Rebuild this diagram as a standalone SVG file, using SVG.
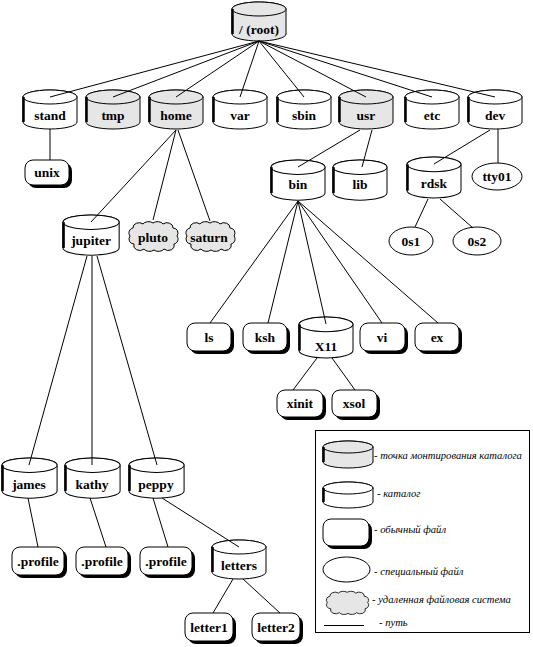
<svg xmlns="http://www.w3.org/2000/svg" xmlns:xlink="http://www.w3.org/1999/xlink" width="533" height="647" viewBox="0 0 533 647">
<style>
.n{stroke:#000;stroke-width:1;fill:#fff}
.g{fill:#e6e6e6}
.sh{fill:#000;stroke:none}
.t{font-family:"Liberation Serif","Times New Roman",serif;font-weight:bold;font-size:13.5px;text-anchor:middle;fill:#000}
.lt{font-family:"Liberation Serif","Times New Roman",serif;font-style:italic;font-size:10.6px;fill:#000}
#edges line{stroke:#000;stroke-width:1}
</style>
<defs>
<g id="cyl">
<path d="M0,7 V32 A27,7 0 0 0 54,32 V7 A27,7 0 0 0 0,7 Z"/>
<ellipse cx="27" cy="7" rx="27" ry="7"/>
<path d="M0.5,7 V32" fill="none" stroke-width="2.5"/>
</g>
<path id="cloud" d="M8,8 a6,5 0 0 1 10,-4 a6,4 0 0 1 10,-1 a6,4 0 0 1 10,1 a6,5 0 0 1 10,4 a5,5 0 0 1 4,8 a5,5 0 0 1 -3,8 a6,5 0 0 1 -10,5 a6,4 0 0 1 -10,1 a6,4 0 0 1 -10,-1 a6,5 0 0 1 -10,-5 a5,5 0 0 1 -4,-8 a5,5 0 0 1 3,-8 z"/>
</defs>
<rect width="533" height="647" fill="#fff"/>

<g id="root"><use xlink:href="#cyl" class="n g" transform="translate(232,2)"/><text class="t" x="259" y="34">/ (root)</text></g>
<g id="stand"><use xlink:href="#cyl" class="n" transform="translate(23,90)"/><text class="t" x="50" y="120">stand</text></g>
<g id="tmp"><use xlink:href="#cyl" class="n g" transform="translate(86,90)"/><text class="t" x="113" y="120">tmp</text></g>
<g id="home"><use xlink:href="#cyl" class="n g" transform="translate(149,90)"/><text class="t" x="176" y="120">home</text></g>
<g id="var"><use xlink:href="#cyl" class="n" transform="translate(213,90)"/><text class="t" x="240" y="120">var</text></g>
<g id="sbin"><use xlink:href="#cyl" class="n" transform="translate(277,90)"/><text class="t" x="304" y="120">sbin</text></g>
<g id="usr"><use xlink:href="#cyl" class="n g" transform="translate(339,90)"/><text class="t" x="366" y="120">usr</text></g>
<g id="etc"><use xlink:href="#cyl" class="n" transform="translate(405,90)"/><text class="t" x="432" y="120">etc</text></g>
<g id="dev"><use xlink:href="#cyl" class="n" transform="translate(468,90)"/><text class="t" x="495" y="120">dev</text></g>

<g id="unix"><rect class="sh" x="28" y="163" width="44" height="25" rx="8"/><rect class="n" x="25" y="160" width="44" height="25" rx="8"/><text class="t" x="47" y="177">unix</text></g>

<g id="jupiter"><use xlink:href="#cyl" class="n" transform="translate(63,215) scale(1.04,1.03)"/><text class="t" x="91" y="245">jupiter</text></g>
<g id="pluto"><use xlink:href="#cloud" class="n g" transform="translate(125,220)"/><text class="t" x="153" y="242">pluto</text></g>
<g id="saturn"><use xlink:href="#cloud" class="n g" transform="translate(182,220)"/><text class="t" x="209" y="242">saturn</text></g>

<g id="bin"><use xlink:href="#cyl" class="n" transform="translate(271,160) scale(1,1.03)"/><text class="t" x="298" y="189">bin</text></g>
<g id="lib"><use xlink:href="#cyl" class="n" transform="translate(333,160) scale(1,1.03)"/><text class="t" x="360" y="189">lib</text></g>
<g id="rdsk"><use xlink:href="#cyl" class="n" transform="translate(407,157) scale(1,1.05)"/><text class="t" x="434" y="188">rdsk</text></g>
<g id="tty01"><ellipse class="n" cx="497" cy="176.5" rx="25" ry="13.5"/><text class="t" x="497" y="181">tty01</text></g>
<g id="os1"><ellipse class="n" cx="411" cy="241" rx="22" ry="14"/><text class="t" x="411" y="246">0s1</text></g>
<g id="os2"><ellipse class="n" cx="477" cy="241" rx="24" ry="14"/><text class="t" x="477" y="246">0s2</text></g>

<g id="ls"><rect class="sh" x="190" y="326" width="44" height="28" rx="8"/><rect class="n" x="187" y="323" width="44" height="28" rx="8"/><text class="t" x="209" y="342">ls</text></g>
<g id="ksh"><rect class="sh" x="246" y="326" width="44" height="28" rx="8"/><rect class="n" x="243" y="323" width="44" height="28" rx="8"/><text class="t" x="265" y="342">ksh</text></g>
<g id="X11"><use xlink:href="#cyl" class="n" transform="translate(299,317) scale(1,1.05)"/><text class="t" x="326" y="351">X11</text></g>
<g id="vi"><rect class="sh" x="363" y="326" width="45" height="28" rx="8"/><rect class="n" x="360" y="323" width="45" height="28" rx="8"/><text class="t" x="382" y="342">vi</text></g>
<g id="ex"><rect class="sh" x="418" y="326" width="44" height="28" rx="8"/><rect class="n" x="415" y="323" width="44" height="28" rx="8"/><text class="t" x="437" y="342">ex</text></g>
<g id="xinit"><rect class="sh" x="280" y="393" width="46" height="27" rx="8"/><rect class="n" x="277" y="390" width="46" height="27" rx="8"/><text class="t" x="300" y="408">xinit</text></g>
<g id="xsol"><rect class="sh" x="335" y="393" width="45" height="27" rx="8"/><rect class="n" x="332" y="390" width="45" height="27" rx="8"/><text class="t" x="354" y="408">xsol</text></g>

<g id="james"><use xlink:href="#cyl" class="n" transform="translate(2,458) scale(1.02,1.03)"/><text class="t" x="29" y="489">james</text></g>
<g id="kathy"><use xlink:href="#cyl" class="n" transform="translate(65,458) scale(1.02,1.03)"/><text class="t" x="92" y="489">kathy</text></g>
<g id="peppy"><use xlink:href="#cyl" class="n" transform="translate(129,458) scale(1.02,1.03)"/><text class="t" x="156" y="489">peppy</text></g>
<g id="profile1"><rect class="sh" x="15" y="550" width="52" height="28" rx="8"/><rect class="n" x="12" y="547" width="52" height="28" rx="8"/><text class="t" x="38" y="566">.profile</text></g>
<g id="profile2"><rect class="sh" x="79" y="550" width="52" height="28" rx="8"/><rect class="n" x="76" y="547" width="52" height="28" rx="8"/><text class="t" x="102" y="566">.profile</text></g>
<g id="profile3"><rect class="sh" x="143" y="550" width="52" height="28" rx="8"/><rect class="n" x="140" y="547" width="52" height="28" rx="8"/><text class="t" x="166" y="566">.profile</text></g>
<g id="letters"><use xlink:href="#cyl" class="n" transform="translate(212,540)"/><text class="t" x="239" y="570">letters</text></g>
<g id="letter1"><rect class="sh" x="188" y="616" width="48" height="28" rx="8"/><rect class="n" x="185" y="613" width="48" height="28" rx="8"/><text class="t" x="209" y="632">letter1</text></g>
<g id="letter2"><rect class="sh" x="255" y="616" width="48" height="28" rx="8"/><rect class="n" x="252" y="613" width="48" height="28" rx="8"/><text class="t" x="276" y="632">letter2</text></g>

<g id="edges">
<line x1="259" y1="41" x2="50" y2="97"/>
<line x1="259" y1="41" x2="113" y2="97"/>
<line x1="259" y1="41" x2="176" y2="97"/>
<line x1="259" y1="41" x2="240" y2="97"/>
<line x1="259" y1="41" x2="304" y2="97"/>
<line x1="259" y1="41" x2="366" y2="97"/>
<line x1="259" y1="41" x2="432" y2="97"/>
<line x1="259" y1="41" x2="495" y2="97"/>
<line x1="50" y1="129" x2="50" y2="160"/>
<line x1="176" y1="130" x2="91" y2="222"/>
<line x1="176" y1="130" x2="153" y2="220"/>
<line x1="178" y1="130" x2="210" y2="221"/>
<line x1="360" y1="130" x2="298" y2="167"/>
<line x1="372" y1="130" x2="362" y2="167"/>
<line x1="490" y1="130" x2="434" y2="164"/>
<line x1="498" y1="129" x2="498" y2="163"/>
<line x1="428" y1="199" x2="415" y2="227"/>
<line x1="440" y1="199" x2="473" y2="228"/>
<line x1="298" y1="201" x2="210" y2="323"/>
<line x1="298" y1="201" x2="268" y2="323"/>
<line x1="298" y1="201" x2="326" y2="324"/>
<line x1="298" y1="201" x2="382" y2="323"/>
<line x1="298" y1="201" x2="438" y2="323"/>
<line x1="317" y1="358" x2="293" y2="390"/>
<line x1="332" y1="358" x2="355" y2="390"/>
<line x1="87" y1="256" x2="29" y2="465"/>
<line x1="92" y1="256" x2="92" y2="465"/>
<line x1="97" y1="256" x2="157" y2="465"/>
<line x1="28" y1="498" x2="38" y2="547"/>
<line x1="90" y1="498" x2="106" y2="547"/>
<line x1="153" y1="498" x2="168" y2="547"/>
<line x1="162" y1="498" x2="239" y2="547"/>
<line x1="233" y1="579" x2="213" y2="613"/>
<line x1="243" y1="579" x2="280" y2="613"/>
</g>

<g id="legend">
<rect x="315.5" y="430.5" width="214" height="202" fill="none" stroke="#000"/>
<path class="n g" d="M323,447 V462 A25,6 0 0 0 373,462 V447 A25,6 0 0 0 323,447 Z"/>
<ellipse class="n g" cx="348" cy="447" rx="25" ry="6"/>
<path d="M323.5,447 V462" stroke="#000" stroke-width="2.5" fill="none"/>
<text class="lt" x="374" y="459">- точка монтирования каталога</text>
<path class="n" d="M323,488 V502 A25,6 0 0 0 373,502 V488 A25,6 0 0 0 323,488 Z"/>
<ellipse class="n" cx="348" cy="488" rx="25" ry="6"/>
<path d="M323.5,488 V502" stroke="#000" stroke-width="2.5" fill="none"/>
<text class="lt" x="377" y="497">- каталог</text>
<rect class="sh" x="326" y="522" width="46" height="27" rx="8"/>
<rect class="n" x="323" y="519" width="46" height="27" rx="8"/>
<text class="lt" x="374" y="533">- обычный файл</text>
<ellipse class="n" cx="346.5" cy="569.5" rx="23.5" ry="12.5"/>
<text class="lt" x="374" y="575">- специальный файл</text>
<use xlink:href="#cloud" class="n g" transform="translate(323,590) scale(0.86,0.78)"/>
<text class="lt" x="372" y="603">- удаленная файловая система</text>
<line x1="324" y1="625.5" x2="364" y2="625.5" stroke="#000"/>
<text class="lt" x="379" y="626">- путь</text>
</g>
</svg>
